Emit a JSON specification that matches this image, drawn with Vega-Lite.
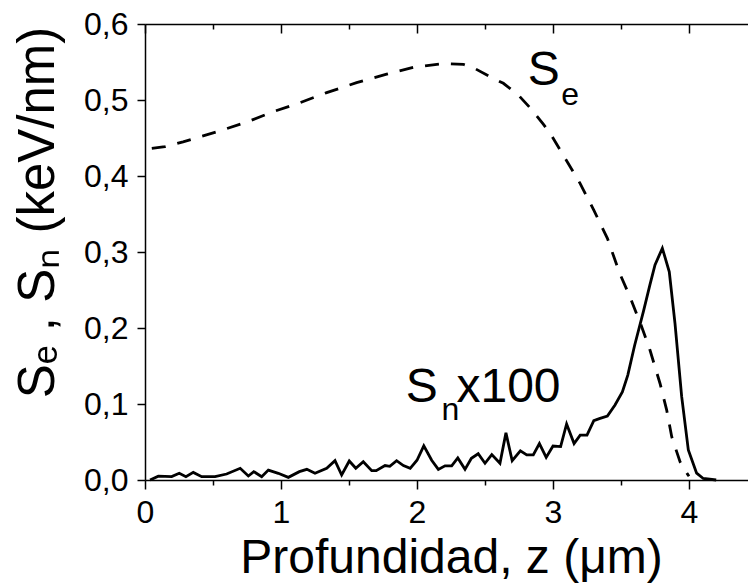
{
  "$schema": "https://vega.github.io/schema/vega-lite/v6.json",
  "width": 612,
  "height": 456,
  "autosize": "none",
  "padding": {"left": 145, "top": 24, "right": 0, "bottom": 105},
  "background": "white",
  "config": {
    "view": {"stroke": null},
    "font": "Liberation Sans",
    "axis": {
      "domainColor": "black",
      "domainWidth": 1.5,
      "tickColor": "black",
      "tickWidth": 1.5,
      "labelColor": "black",
      "titleColor": "black",
      "labelFont": "Liberation Sans",
      "titleFont": "Liberation Sans",
      "labelFontSize": 32,
      "titleFontSize": 48,
      "titleFontWeight": "normal",
      "grid": false
    }
  },
  "datasets": {
    "se": [
      {"z": 0.05, "v": 0.4364}, {"z": 0.147, "v": 0.4386}, {"z": 0.28, "v": 0.445}, {"z": 0.527, "v": 0.458},
      {"z": 0.748, "v": 0.471}, {"z": 0.943, "v": 0.4846}, {"z": 1.14, "v": 0.4965}, {"z": 1.336, "v": 0.5097},
      {"z": 1.556, "v": 0.5228}, {"z": 1.777, "v": 0.534}, {"z": 1.973, "v": 0.543}, {"z": 2.193, "v": 0.548},
      {"z": 2.34, "v": 0.547}, {"z": 2.414, "v": 0.5425}, {"z": 2.56, "v": 0.5285}, {"z": 2.635, "v": 0.522},
      {"z": 2.745, "v": 0.5066}, {"z": 2.83, "v": 0.49}, {"z": 2.93, "v": 0.468}, {"z": 2.99, "v": 0.453},
      {"z": 3.1, "v": 0.42}, {"z": 3.2, "v": 0.39}, {"z": 3.3, "v": 0.355}, {"z": 3.4, "v": 0.318},
      {"z": 3.49, "v": 0.272}, {"z": 3.566, "v": 0.241}, {"z": 3.652, "v": 0.2017}, {"z": 3.713, "v": 0.171},
      {"z": 3.787, "v": 0.127}, {"z": 3.836, "v": 0.092}, {"z": 3.873, "v": 0.057}, {"z": 3.934, "v": 0.024},
      {"z": 3.988, "v": 0.008}, {"z": 4.0, "v": 0.005}
    ],
    "sn": [
      {"z": 0.037, "v": 0.0}, {"z": 0.098, "v": 0.005}, {"z": 0.196, "v": 0.0044}, {"z": 0.252, "v": 0.0088},
      {"z": 0.301, "v": 0.0044}, {"z": 0.355, "v": 0.01}, {"z": 0.417, "v": 0.0044}, {"z": 0.515, "v": 0.0044},
      {"z": 0.6, "v": 0.0079}, {"z": 0.7, "v": 0.0154}, {"z": 0.76, "v": 0.0053}, {"z": 0.8, "v": 0.011},
      {"z": 0.858, "v": 0.0044}, {"z": 0.907, "v": 0.013}, {"z": 0.98, "v": 0.0088}, {"z": 1.054, "v": 0.0035},
      {"z": 1.135, "v": 0.011}, {"z": 1.19, "v": 0.014}, {"z": 1.25, "v": 0.0088}, {"z": 1.336, "v": 0.0154},
      {"z": 1.397, "v": 0.0254}, {"z": 1.446, "v": 0.0066}, {"z": 1.502, "v": 0.025}, {"z": 1.55, "v": 0.0154},
      {"z": 1.605, "v": 0.024}, {"z": 1.667, "v": 0.0123}, {"z": 1.7, "v": 0.0123}, {"z": 1.765, "v": 0.019},
      {"z": 1.8, "v": 0.018}, {"z": 1.85, "v": 0.0254}, {"z": 1.9, "v": 0.019}, {"z": 1.95, "v": 0.0154},
      {"z": 2.0, "v": 0.026}, {"z": 2.05, "v": 0.045}, {"z": 2.108, "v": 0.026}, {"z": 2.157, "v": 0.014},
      {"z": 2.206, "v": 0.0187}, {"z": 2.255, "v": 0.0187}, {"z": 2.3, "v": 0.029}, {"z": 2.353, "v": 0.014},
      {"z": 2.4, "v": 0.0285}, {"z": 2.45, "v": 0.0345}, {"z": 2.5, "v": 0.022}, {"z": 2.55, "v": 0.0335},
      {"z": 2.61, "v": 0.022}, {"z": 2.654, "v": 0.062}, {"z": 2.7, "v": 0.0254}, {"z": 2.76, "v": 0.0385},
      {"z": 2.807, "v": 0.033}, {"z": 2.855, "v": 0.033}, {"z": 2.9, "v": 0.048}, {"z": 2.95, "v": 0.0298},
      {"z": 3.0, "v": 0.0447}, {"z": 3.056, "v": 0.044}, {"z": 3.1, "v": 0.0737}, {"z": 3.155, "v": 0.048},
      {"z": 3.2, "v": 0.059}, {"z": 3.25, "v": 0.059}, {"z": 3.3, "v": 0.078}, {"z": 3.346, "v": 0.081},
      {"z": 3.4, "v": 0.084}, {"z": 3.456, "v": 0.0987}, {"z": 3.51, "v": 0.116}, {"z": 3.55, "v": 0.138},
      {"z": 3.6, "v": 0.177}, {"z": 3.665, "v": 0.222}, {"z": 3.713, "v": 0.257}, {"z": 3.75, "v": 0.283},
      {"z": 3.804, "v": 0.305}, {"z": 3.855, "v": 0.274}, {"z": 3.897, "v": 0.206}, {"z": 3.946, "v": 0.11},
      {"z": 3.995, "v": 0.0395}, {"z": 4.056, "v": 0.009}, {"z": 4.105, "v": 0.002}, {"z": 4.2, "v": 0.0}
    ],
    "big": [
      {"z": 1.917, "v": 0.1026, "t": "S"},
      {"z": 2.29, "v": 0.1026, "t": "x100"},
      {"z": 2.815, "v": 0.5197, "t": "S"}
    ],
    "small": [
      {"z": 2.18, "v": 0.079, "t": "n"},
      {"z": 3.06, "v": 0.493, "t": "e"}
    ]
  },
  "resolve": {"axis": {"x": "independent"}},
  "layer": [
    {
      "data": {"name": "se"},
      "mark": {"type": "line", "color": "black", "strokeWidth": 2.8, "strokeDash": [14, 12]},
      "encoding": {
        "x": {
          "field": "z", "type": "quantitative",
          "scale": {"domain": [0, 4.5], "nice": false, "zero": false},
          "axis": {
            "orient": "bottom",
            "title": "Profundidad, z (μm)",
            "values": [0, 0.5, 1, 1.5, 2, 2.5, 3, 3.5, 4, 4.5],
            "labelExpr": "datum.value % 1 === 0 ? format(datum.value, 'd') : ''",
            "tickSize": {"condition": {"test": "datum.value % 1 === 0", "value": 9}, "value": 5},
            "labelBaseline": "alphabetic",
            "labelPadding": 33,
            "labelFlush": false,
            "labelOverlap": false,
            "titleBaseline": "alphabetic",
            "titleAnchor": "middle",
            "titleY": 92
          }
        },
        "y": {
          "field": "v", "type": "quantitative",
          "scale": {"domain": [0, 0.6], "nice": false},
          "axis": {
            "orient": "left",
            "title": "Sₑ , Sₙ (keV/nm)",
            "titleFontSize": 51,
            "values": [0, 0.05, 0.1, 0.15, 0.2, 0.25, 0.3, 0.35, 0.4, 0.45, 0.5, 0.55, 0.6],
            "labelExpr": "abs(datum.value * 10 - round(datum.value * 10)) < 0.001 ? replace(format(datum.value, '.1f'), '.', ',') : ''",
            "tickSize": {"condition": {"test": "abs(datum.value * 10 - round(datum.value * 10)) < 0.001", "value": 8}, "value": 5},
            "labelPadding": 9,
            "labelBaseline": "middle",
            "labelFlush": false,
            "labelOverlap": false,
            "titleAngle": -90,
            "titleAnchor": "middle",
            "titleBaseline": "alphabetic",
            "titleX": -92,
            "titleY": 188
          }
        }
      }
    },
    {
      "data": {"name": "sn"},
      "mark": {"type": "line", "color": "black", "strokeWidth": 2.8},
      "encoding": {
        "x": {
          "field": "z", "type": "quantitative",
          "scale": {"domain": [0, 4.5], "nice": false, "zero": false},
          "axis": {
            "orient": "top",
            "title": null,
            "labels": false,
            "values": [0, 0.5, 1, 1.5, 2, 2.5, 3, 3.5, 4, 4.5],
            "tickSize": {"condition": {"test": "datum.value % 1 === 0", "value": -9}, "value": -5}
          }
        },
        "y": {"field": "v", "type": "quantitative", "scale": {"domain": [0, 0.6], "nice": false}}
      }
    },
    {
      "data": {"name": "big"},
      "mark": {"type": "text", "color": "black", "font": "Liberation Sans", "fontSize": 48, "align": "left", "baseline": "alphabetic"},
      "encoding": {
        "x": {"field": "z", "type": "quantitative", "scale": {"domain": [0, 4.5], "nice": false, "zero": false}, "axis": null},
        "y": {"field": "v", "type": "quantitative", "scale": {"domain": [0, 0.6], "nice": false}},
        "text": {"field": "t"}
      }
    },
    {
      "data": {"name": "small"},
      "mark": {"type": "text", "color": "black", "font": "Liberation Sans", "fontSize": 32, "align": "left", "baseline": "alphabetic"},
      "encoding": {
        "x": {"field": "z", "type": "quantitative", "scale": {"domain": [0, 4.5], "nice": false, "zero": false}, "axis": null},
        "y": {"field": "v", "type": "quantitative", "scale": {"domain": [0, 0.6], "nice": false}},
        "text": {"field": "t"}
      }
    }
  ]
}
